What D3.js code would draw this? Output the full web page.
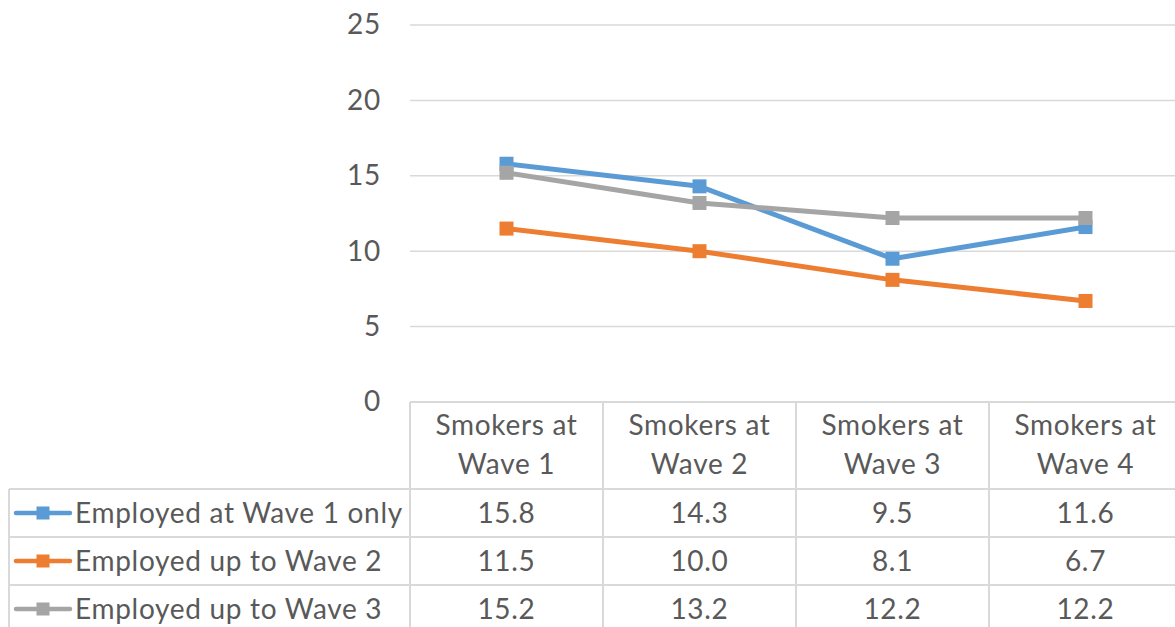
<!DOCTYPE html>
<html>
<head>
<meta charset="utf-8">
<script src="https://cdn.jsdelivr.net/npm/d3@7"></script>
<style>
  html, body { margin: 0; padding: 0; background: #fff; }
  svg { display: block; }
  text { font-family: Lato, "Open Sans", sans-serif; fill: #595959; letter-spacing: 0.7px; }
</style>
</head>
<body>
<svg id="chart" width="1175" height="627"></svg>
<script>
// Share of smokers by employment history across survey waves
const categories = ["Smokers at Wave 1", "Smokers at Wave 2", "Smokers at Wave 3", "Smokers at Wave 4"];
const seriesNames = ["Employed at Wave 1 only", "Employed up to Wave 2", "Employed up to Wave 3"];
const employedWave1Only = [15.8, 14.3, 9.5, 11.6];
const employedUpToWave2 = [11.5, 10.0, 8.1, 6.7];
const employedUpToWave3 = [15.2, 13.2, 12.2, 12.2];
const yTicks = [0, 5, 10, 15, 20, 25];
const colors = ["#5B9BD5", "#ED7D31", "#A5A5A5"];

const series = [employedWave1Only, employedUpToWave2, employedUpToWave3].map((vals, i) => ({
  name: seriesNames[i], values: vals, color: colors[i]
}));

const svg = d3.select("#chart");
const gridColor = "#D9D9D9";
const fontSize = "28px";

const plotLeft = 410, colW = 193;
const x = d3.scaleBand().domain(categories).range([plotLeft, plotLeft + colW * categories.length]).padding(0);
const y = d3.scaleLinear().domain([0, 25]).range([402, 25]);

// gridlines
svg.append("g").selectAll("line").data(yTicks.filter(d => d > 0)).join("line")
  .attr("x1", plotLeft).attr("x2", 1175)
  .attr("y1", d => y(d)).attr("y2", d => y(d))
  .attr("stroke", gridColor).attr("stroke-width", 1.5);

// value axis labels
const yAxis = svg.append("g").attr("transform", "translate(381,0)")
  .call(d3.axisLeft(y).tickValues(yTicks).tickSize(0).tickPadding(0).tickFormat(d3.format("d")));
yAxis.select(".domain").remove();
yAxis.selectAll("text").style("font-size", fontSize).style("font-family", "Lato, sans-serif").attr("fill", "#595959");

// data table
const tableTop = 402, headerBottom = 489, rowH = 48;
const rowTops = seriesNames.map((_, i) => headerBottom + i * rowH);
const tableRight = plotLeft + colW * categories.length;
const tbl = svg.append("g");

// horizontal rules
tbl.append("line").attr("x1", plotLeft).attr("x2", tableRight)
  .attr("y1", tableTop).attr("y2", tableTop).attr("stroke", gridColor).attr("stroke-width", 2);
rowTops.forEach(t => {
  tbl.append("line").attr("x1", 9).attr("x2", tableRight)
    .attr("y1", t).attr("y2", t).attr("stroke", gridColor).attr("stroke-width", 2);
});
// vertical rules
categories.forEach(c => {
  tbl.append("line").attr("x1", x(c)).attr("x2", x(c))
    .attr("y1", tableTop).attr("y2", 627).attr("stroke", gridColor).attr("stroke-width", 2);
});
tbl.append("line").attr("x1", 9).attr("x2", 9)
  .attr("y1", headerBottom).attr("y2", 627).attr("stroke", gridColor).attr("stroke-width", 2);

// header labels
categories.forEach(c => {
  const parts = c.match(/^(.*) (Wave \d)$/);
  const t = tbl.append("text").attr("text-anchor", "middle").style("font-size", fontSize);
  t.append("tspan").attr("x", x(c) + x.bandwidth() / 2).attr("y", 435).text(parts[1]);
  t.append("tspan").attr("x", x(c) + x.bandwidth() / 2).attr("y", 474).text(parts[2]);
});

// legend keys, series names and values
series.forEach((s, i) => {
  const cy = rowTops[i] + rowH / 2;
  tbl.append("line").attr("x1", 16).attr("x2", 70).attr("y1", cy).attr("y2", cy)
    .attr("stroke", s.color).attr("stroke-width", 4.5).attr("stroke-linecap", "round");
  tbl.append("rect").attr("x", 43 - 6.5).attr("y", cy - 6.5).attr("width", 13).attr("height", 13)
    .attr("fill", s.color);
  tbl.append("text").attr("x", 75).attr("y", cy + 10).style("font-size", fontSize).text(s.name);
  s.values.forEach((v, j) => {
    tbl.append("text").attr("x", x(categories[j]) + x.bandwidth() / 2).attr("y", cy + 10)
      .attr("text-anchor", "middle").style("font-size", fontSize).text(v.toFixed(1));
  });
});

// lines and square markers
const line = d3.line().x((d, j) => x(categories[j]) + x.bandwidth() / 2).y(d => y(d));
series.forEach(s => {
  const g = svg.append("g");
  g.append("path").datum(s.values).attr("d", line)
    .attr("fill", "none").attr("stroke", s.color).attr("stroke-width", 5)
    .attr("stroke-linejoin", "round").attr("stroke-linecap", "round");
  g.selectAll("rect").data(s.values).join("rect")
    .attr("x", (d, j) => x(categories[j]) + x.bandwidth() / 2 - 7)
    .attr("y", d => y(d) - 7)
    .attr("width", 14).attr("height", 14)
    .attr("fill", s.color);
});
</script>
</body>
</html>
